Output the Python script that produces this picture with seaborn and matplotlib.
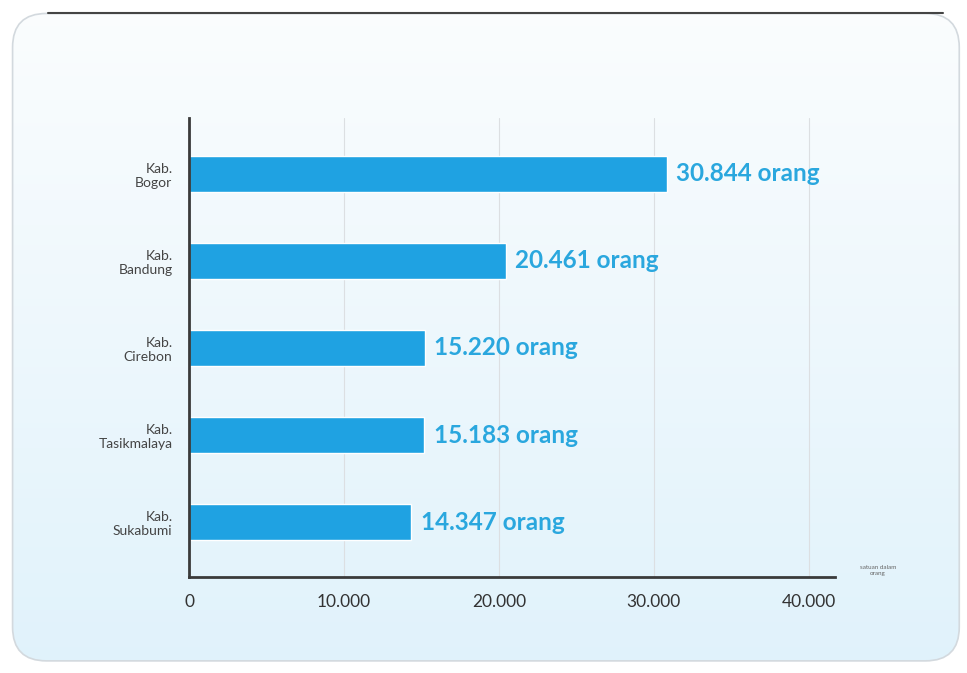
import numpy as np
import pandas as pd
import seaborn as sns
import matplotlib.pyplot as plt
from matplotlib.patches import FancyBboxPatch

kabupaten = ["Kab.\nBogor", "Kab.\nBandung", "Kab.\nCirebon", "Kab.\nTasikmalaya", "Kab.\nSukabumi"]
jumlah = [30844, 20461, 15220, 15183, 14347]
label_nilai = ["30.844 orang", "20.461 orang", "15.220 orang", "15.183 orang", "14.347 orang"]
tick_pos = [0, 10000, 20000, 30000, 40000]
tick_lbl = ["0", "10.000", "20.000", "30.000", "40.000"]

df = pd.DataFrame({"kab": kabupaten, "jumlah": jumlah})

sns.set_style("white")
plt.rcParams["font.family"] = ["Lato", "DejaVu Sans"]

fig = plt.figure(figsize=(9.67, 6.73), dpi=100)
fig.patch.set_facecolor("white")

# card background with soft gradient
bg = fig.add_axes([0, 0, 1, 1])
bg.set_xlim(0, 1)
bg.set_ylim(0, 1)
bg.axis("off")
grad = np.linspace(0, 1, 256).reshape(-1, 1)
card = FancyBboxPatch((0.013, 0.018), 0.979, 0.962,
                      boxstyle="round,pad=0,rounding_size=0.035",
                      facecolor="none", edgecolor="#d3d9de", linewidth=1.2,
                      mutation_aspect=967 / 673)
bg.add_patch(card)
img = bg.imshow(grad, extent=[0, 1, 0, 1], aspect="auto", origin="lower",
                cmap=sns.blend_palette(["#e0f2fb", "#fbfdfe"], as_cmap=True))
img.set_clip_path(card)
bg.plot([0.05, 0.975], [0.981, 0.981], color="#444444", lw=1.5)

ax = fig.add_axes([0.1955, 0.1426, 0.668, 0.682])
ax.set_facecolor("none")
sns.barplot(data=df, x="jumlah", y="kab", orient="h", color="#1fa2e2",
            width=0.41, saturation=1, ax=ax)

for i, (v, t) in enumerate(zip(jumlah, label_nilai)):
    ax.text(v + 600, i, t, va="center", ha="left", fontsize=17.5,
            fontweight="bold", color="#2aa7de")

ax.set_xlim(0, 41700)
ax.set_ylim(4.63, -0.64)
ax.set_xticks(tick_pos)
ax.set_xticklabels(tick_lbl, fontsize=12.5, color="#333333")
ax.tick_params(axis="x", length=0, pad=12)
ax.tick_params(axis="y", length=0, pad=12, labelsize=10, labelcolor="#444444")
for lbl in ax.get_yticklabels():
    lbl.set_horizontalalignment("right")
    lbl.set_multialignment("right")
ax.xaxis.grid(True, color="#dcdfe2", linewidth=0.8)
ax.set_axisbelow(True)
ax.set_xlabel("")
ax.set_ylabel("")
for s in ["top", "right"]:
    ax.spines[s].set_visible(False)
for s in ["left", "bottom"]:
    ax.spines[s].set_color("#3a3a3a")
    ax.spines[s].set_linewidth(2)

fig.text(0.908, 0.152, "satuan dalam\norang", fontsize=4.5, color="#666666",
         ha="center", va="center")

fig.savefig("out.png", dpi=100)
